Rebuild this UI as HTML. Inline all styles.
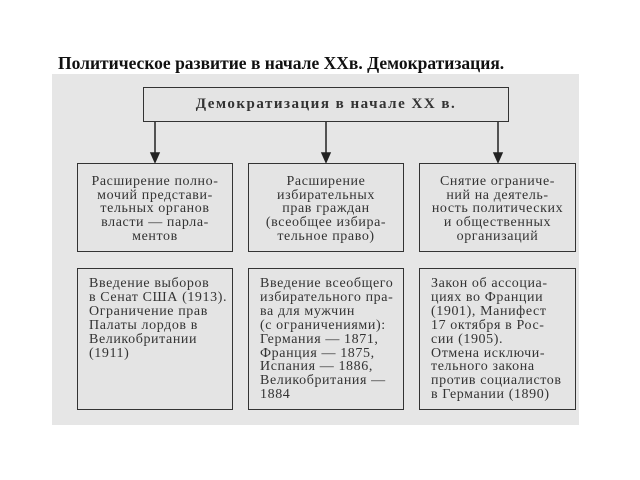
<!DOCTYPE html>
<html><head><meta charset="utf-8"><style>
body{margin:0;width:640px;height:480px;background:#fff;position:relative;font-family:"Liberation Serif","DejaVu Serif",serif;overflow:hidden}
.t{position:absolute;left:58px;top:53px;font-weight:bold;font-size:17.5px;color:#111;white-space:nowrap}
.bg{position:absolute;left:52px;top:74px;width:527px;height:351px;background:#e6e6e6}
.b{position:absolute;border:1.5px solid #333;box-sizing:border-box;background:#e4e4e4;color:#333;font-size:14px;letter-spacing:0.6px;white-space:nowrap}
.m{text-align:center;padding-top:11px;line-height:13.7px}
.l{padding:8px 0 0 11px;line-height:13.9px}
</style></head><body>
<div class="t">Политическое развитие в начале XXв. Демократизация.</div>
<div class="bg"></div>
<div class="b" style="left:143px;top:87px;width:366px;height:35px;text-align:center;line-height:32px;font-size:15px;font-weight:bold;letter-spacing:1.5px;color:#333">Демократизация в начале XX в.</div>
<svg style="position:absolute;left:0;top:0" width="640" height="480">
<g stroke="#222" stroke-width="1.5" fill="#222">
<line x1="155" y1="122" x2="155" y2="155"/><polygon points="151,153 159,153 155,162"/>
<line x1="326" y1="122" x2="326" y2="155"/><polygon points="322,153 330,153 326,162"/>
<line x1="498" y1="122" x2="498" y2="155"/><polygon points="494,153 502,153 498,162"/>
</g></svg>
<div class="b m" style="left:77px;top:163px;width:156px;height:89px">Расширение полно-<br>мочий представи-<br>тельных органов<br>власти — парла-<br>ментов</div>
<div class="b m" style="left:248px;top:163px;width:156px;height:89px">Расширение<br>избирательных<br>прав граждан<br>(всеобщее избира-<br>тельное право)</div>
<div class="b m" style="left:419px;top:163px;width:157px;height:89px">Снятие ограниче-<br>ний на деятель-<br>ность политических<br>и общественных<br>организаций</div>
<div class="b l" style="left:77px;top:268px;width:156px;height:142px">Введение выборов<br>в Сенат США (1913).<br>Ограничение прав<br>Палаты лордов в<br>Великобритании<br>(1911)</div>
<div class="b l" style="left:248px;top:268px;width:156px;height:142px">Введение всеобщего<br>избирательного пра-<br>ва для мужчин<br>(с ограничениями):<br>Германия — 1871,<br>Франция — 1875,<br>Испания — 1886,<br>Великобритания —<br>1884</div>
<div class="b l" style="left:419px;top:268px;width:157px;height:142px">Закон об ассоциа-<br>циях во Франции<br>(1901), Манифест<br>17 октября в Рос-<br>сии (1905).<br>Отмена исключи-<br>тельного закона<br>против социалистов<br>в Германии (1890)</div>
</body></html>
